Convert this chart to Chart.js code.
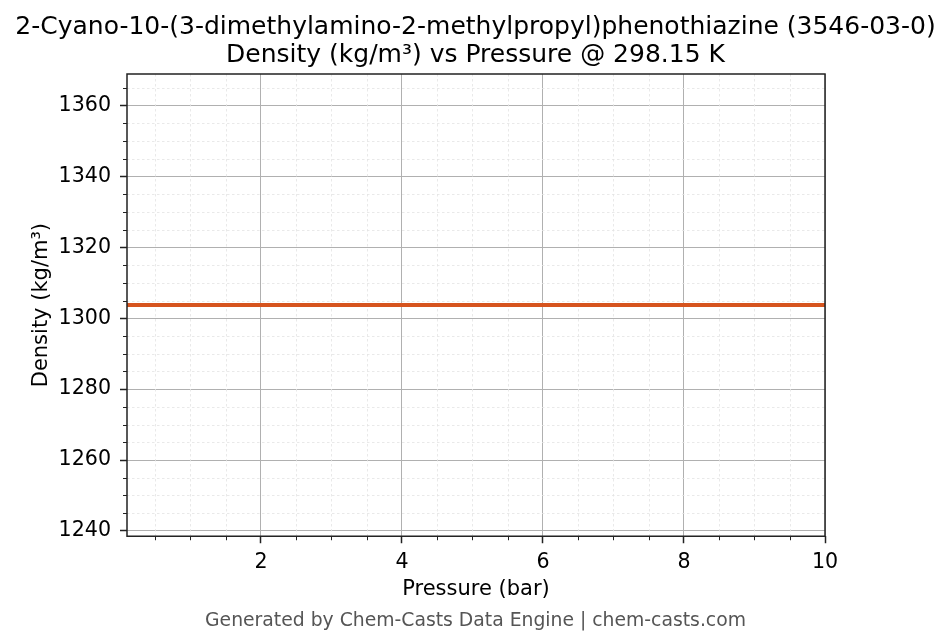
<!DOCTYPE html>
<html>
<head>
<meta charset="utf-8">
<script src="https://cdn.jsdelivr.net/npm/chart.js@4.4.1/dist/chart.umd.min.js"></script>
<style>
  html, body { margin: 0; padding: 0; background: #ffffff; }
  canvas { display: block; }
</style>
</head>
<body>
<canvas id="myChart" width="951" height="644"></canvas>
<script>
// values
const pressure = [0.1, 1, 2, 3, 4, 5, 6, 7, 8, 9, 10];
const density = [1303.7, 1303.7, 1303.7, 1303.7, 1303.7, 1303.7, 1303.7, 1303.7, 1303.7, 1303.7, 1303.7];

const xMajorTicks = [2, 4, 6, 8, 10];
const xMinorTicks = [0.5, 1, 1.5, 2.5, 3, 3.5, 4.5, 5, 5.5, 6.5, 7, 7.5, 8.5, 9, 9.5];
const yMajorTicks = [1240, 1260, 1280, 1300, 1320, 1340, 1360];
const yMinorTicks = [1245, 1250, 1255, 1265, 1270, 1275, 1285, 1290, 1295, 1305, 1310, 1315, 1325, 1330, 1335, 1345, 1350, 1355, 1365];

const titleLines = ["2-Cyano-10-(3-dimethylamino-2-methylpropyl)phenothiazine (3546-03-0)", "Density (kg/m\u00b3) vs Pressure @ 298.15 K"];
const xTitle = "Pressure (bar)";
const yTitle = "Density (kg/m\u00b3)";
const footer = "Generated by Chem-Casts Data Engine | chem-casts.com";

const FONT = "'DejaVu Sans', sans-serif";
const AXIS_DARK = "#222222";

// minor grid lines + minor ticks + frame
const minorAndFrame = {
  id: "minorAndFrame",
  beforeDatasetsDraw(chart) {
    const { ctx, chartArea: a, scales } = chart;
    ctx.save();
    ctx.strokeStyle = "#e3e3e3";
    ctx.lineWidth = 0.8;
    ctx.setLineDash([2.5, 2.5]);
    xMinorTicks.forEach((v) => {
      const x = Math.round(scales.x.getPixelForValue(v)) + 0.5;
      ctx.beginPath();
      ctx.moveTo(x, a.top);
      ctx.lineTo(x, a.bottom);
      ctx.stroke();
    });
    yMinorTicks.forEach((v) => {
      const y = Math.round(scales.y.getPixelForValue(v)) + 0.5;
      ctx.beginPath();
      ctx.moveTo(a.left, y);
      ctx.lineTo(a.right, y);
      ctx.stroke();
    });
    ctx.restore();
  },
  afterDraw(chart) {
    const { ctx, chartArea: a, scales } = chart;
    ctx.save();
    ctx.strokeStyle = AXIS_DARK;
    ctx.lineWidth = 1;
    xMinorTicks.forEach((v) => {
      const x = Math.round(scales.x.getPixelForValue(v)) + 0.5;
      ctx.beginPath();
      ctx.moveTo(x, a.bottom);
      ctx.lineTo(x, a.bottom + 4);
      ctx.stroke();
    });
    yMinorTicks.forEach((v) => {
      const y = Math.round(scales.y.getPixelForValue(v)) + 0.5;
      ctx.beginPath();
      ctx.moveTo(a.left, y);
      ctx.lineTo(a.left - 4, y);
      ctx.stroke();
    });
    ctx.lineWidth = 1.5;
    ctx.strokeRect(a.left, a.top, a.right - a.left, a.bottom - a.top);
    ctx.restore();
  },
};

new Chart("myChart", {
  type: "line",
  data: {
    datasets: [
      {
        data: pressure.map((p, i) => ({ x: p, y: density[i] })),
        borderColor: "#d6541e",
        borderWidth: 4,
        pointRadius: 0,
        fill: false,
        tension: 0,
      },
    ],
  },
  plugins: [minorAndFrame],
  options: {
    responsive: false,
    animation: false,
    layout: { padding: 0 },
    plugins: {
      legend: { display: false },
      tooltip: { enabled: false },
      title: {
        display: true,
        text: titleLines,
        color: "#000000",
        font: { family: FONT, size: 25, weight: "normal", lineHeight: 28 / 25 },
        padding: { top: 13, bottom: 5 },
      },
      subtitle: {
        display: true,
        position: "bottom",
        text: footer,
        color: "#555555",
        font: { family: FONT, size: 18.8, weight: "normal", lineHeight: 1.2 },
        padding: { top: 6, bottom: 11.6 },
      },
    },
    scales: {
      x: {
        type: "linear",
        min: 0.1,
        max: 10,
        afterBuildTicks: (scale) => {
          scale.ticks = xMajorTicks.map((v) => ({ value: v }));
        },
        afterFit: (scale) => {
          scale.height = 603.6 - 536;
        },
        ticks: {
          color: "#000000",
          font: { family: FONT, size: 20.6 },
          padding: 7,
          maxRotation: 0,
          callback: (v) => String(v),
        },
        grid: {
          color: "#b0b0b0",
          lineWidth: 1,
          tickColor: AXIS_DARK,
          tickLength: 7,
          tickWidth: 1.5,
        },
        border: { display: false },
        title: {
          display: true,
          text: xTitle,
          color: "#000000",
          font: { family: FONT, size: 21, lineHeight: 1.2 },
          padding: { top: 0, bottom: 2 },
        },
      },
      y: {
        type: "linear",
        min: 1238.5,
        max: 1368.9,
        afterBuildTicks: (scale) => {
          scale.ticks = yMajorTicks.map((v) => ({ value: v }));
        },
        afterFit: (scale) => {
          scale.width = 127;
        },
        ticks: {
          color: "#000000",
          font: { family: FONT, size: 20.6 },
          padding: 9,
          callback: (v) => String(v),
        },
        grid: {
          color: "#b0b0b0",
          lineWidth: 1,
          tickColor: AXIS_DARK,
          tickLength: 7,
          tickWidth: 1.5,
        },
        border: { display: false },
        title: {
          display: true,
          text: yTitle,
          color: "#000000",
          font: { family: FONT, size: 21, lineHeight: 1.2 },
          padding: { top: 29, bottom: 0 },
        },
      },
      // empty right-hand strip so the plot ends where the reference's does
      yRight: {
        type: "linear",
        position: "right",
        min: 0,
        max: 1,
        afterBuildTicks: (scale) => {
          scale.ticks = [];
        },
        afterFit: (scale) => {
          scale.width = 951 - 825;
        },
        ticks: { display: false },
        grid: { display: false, drawOnChartArea: false, drawTicks: false },
        border: { display: false },
      },
    },
  },
});
</script>
</body>
</html>
